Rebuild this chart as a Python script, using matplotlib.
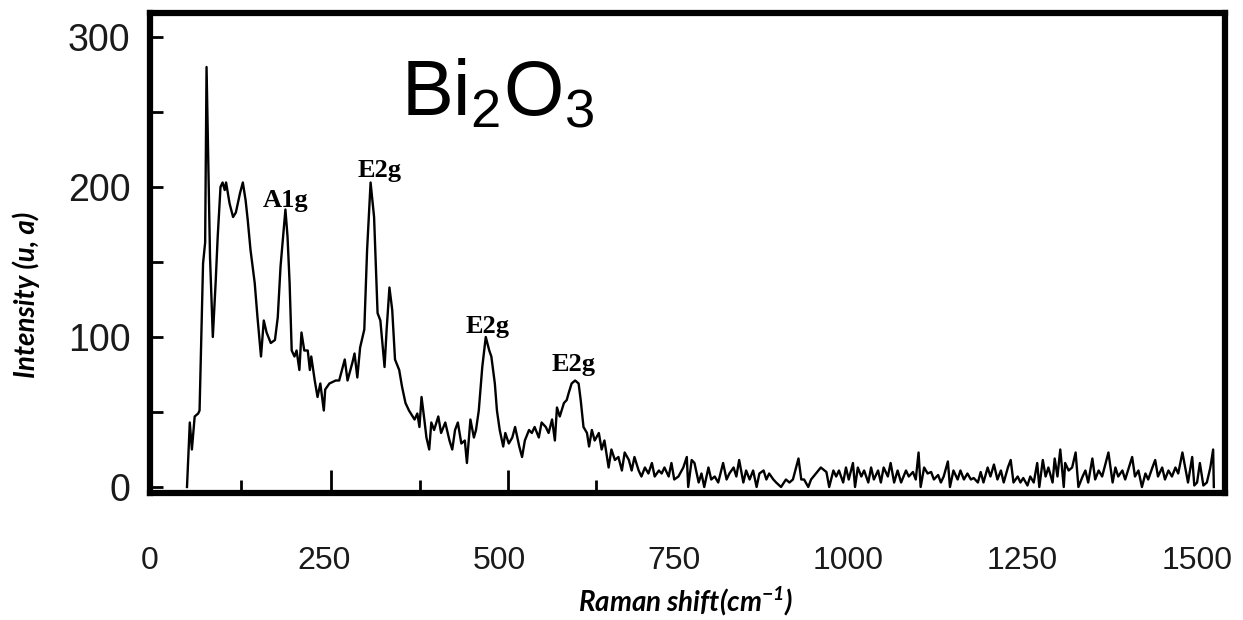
import numpy as np
import matplotlib
matplotlib.use("Agg")
import matplotlib.pyplot as plt
from matplotlib.ticker import FixedLocator

# Raman spectrum of Bi2O3: shift (cm-1) and intensity (a.u.)
shift = [53, 57, 60, 64, 69, 71, 76, 79, 81, 86, 90, 94, 97, 101, 104, 107, 109,
         114, 119, 123, 129, 133, 137, 140, 144, 150, 154, 159, 163, 167, 173, 179,
         183, 187, 194, 197, 200, 203, 207, 210, 214, 217, 221, 226, 229, 231, 236,
         240, 244, 249, 251, 257, 266, 271, 279, 283, 290, 293, 297, 301, 307, 311,
         316, 321, 326, 330, 336, 339, 343, 347, 351, 357, 361, 366, 371, 379, 383,
         386, 389, 393, 396, 400, 403, 407, 413, 417, 423, 429, 433, 437, 441, 446,
         451, 454, 459, 464, 467, 471, 476, 481, 486, 489, 494, 497, 501, 506, 509,
         514, 519, 523, 529, 533, 537, 543, 547, 551, 557, 561, 567, 571, 576, 580,
         583, 587, 593, 597, 600, 604, 609, 614, 617, 621, 626, 629, 633, 637, 643,
         647, 651, 657, 661, 666, 671, 676, 680, 686, 690, 694, 700, 704, 709, 714,
         719, 723, 729, 733, 737, 743, 747, 751, 757, 764, 769, 771, 776, 780, 786,
         790, 794, 800, 804, 809, 814, 821, 826, 830, 836, 840, 844, 850, 854, 859,
         864, 869, 873, 879, 883, 887, 893, 897, 904, 911, 916, 921, 929, 933, 937,
         943, 947, 954, 961, 969, 973, 979, 983, 987, 993, 997, 1001, 1007, 1010,
         1014, 1019, 1023, 1029, 1033, 1037, 1043, 1047, 1051, 1057, 1061, 1066,
         1071, 1076, 1083, 1087, 1093, 1097, 1101, 1104, 1109, 1114, 1119, 1123,
         1129, 1133, 1137, 1143, 1146, 1151, 1157, 1161, 1166, 1171, 1176, 1180,
         1186, 1190, 1194, 1200, 1204, 1209, 1214, 1219, 1223, 1229, 1233, 1237,
         1243, 1247, 1251, 1257, 1261, 1266, 1271, 1274, 1279, 1283, 1287, 1293,
         1296, 1300, 1304, 1309, 1311, 1316, 1321, 1326, 1330, 1336, 1340, 1344,
         1350, 1354, 1359, 1364, 1369, 1373, 1379, 1383, 1387, 1393, 1397, 1401,
         1407, 1411, 1416, 1421, 1426, 1430, 1436, 1440, 1444, 1450, 1454, 1459,
         1464, 1469, 1473, 1479, 1483, 1487, 1493, 1496, 1500, 1504, 1509, 1514,
         1519, 1523, 1524]
intensity = [0, 43, 25, 47, 49, 51, 149, 163, 280, 153, 100, 136, 167, 200, 203, 198, 203,
             189, 180, 183, 196, 203, 191, 178, 158, 136, 113, 87, 111, 103, 96, 98,
             113, 147, 185, 167, 136, 91, 87, 91, 78, 103, 91, 91, 78, 87, 71,
             60, 69, 51, 65, 69, 71, 71, 85, 71, 83, 89, 73, 93, 105, 158,
             203, 180, 116, 111, 80, 105, 133, 118, 85, 78, 67, 56, 51, 45, 49,
             40, 60, 45, 33, 25, 43, 38, 47, 36, 43, 31, 25, 38, 43, 29,
             31, 16, 45, 33, 38, 51, 80, 100, 91, 87, 69, 51, 38, 27, 36,
             29, 33, 40, 27, 20, 31, 38, 36, 40, 33, 43, 40, 36, 45, 31,
             53, 47, 56, 58, 63, 69, 71, 69, 58, 40, 36, 27, 38, 31, 36,
             25, 31, 13, 25, 18, 20, 11, 23, 18, 11, 20, 11, 7, 13, 9,
             16, 7, 11, 9, 13, 7, 16, 5, 7, 13, 20, 0, 18, 16, 3,
             9, 0, 13, 5, 7, 3, 16, 5, 9, 13, 7, 18, 3, 11, 5,
             11, 0, 9, 11, 5, 9, 5, 3, 0, 5, 3, 5, 19, 5, 5,
             0, 5, 9, 13, 10, 0, 11, 7, 11, 3, 13, 5, 16, 0,
             13, 7, 11, 3, 13, 5, 11, 3, 13, 7, 16, 3,
             11, 3, 11, 7, 10, 5, 23, 0, 13, 9, 10, 5,
             8, 3, 7, 17, 0, 11, 5, 11, 5, 9, 5, 6,
             3, 10, 3, 13, 7, 15, 5, 11, 3, 13, 18, 3,
             7, 3, 6, 1, 7, 3, 16, 0, 18, 7, 13, 3,
             19, 7, 25, 0, 16, 11, 13, 23, 0, 7, 11, 3,
             19, 5, 11, 7, 16, 23, 3, 13, 7, 11, 5, 11,
             20, 7, 11, 0, 9, 5, 13, 18, 7, 13, 5, 11,
             7, 13, 9, 23, 13, 3, 20, 1, 3, 16, 1, 3,
             13, 25, 0]

# peak assignments: label, shift, text baseline
peak_names = ["A1g", "E2g", "E2g", "E2g"]
peak_x = [194, 329, 483, 607]
peak_y = [187, 207, 103, 77]

x_labels = [0, 250, 500, 750, 1000, 1250, 1500]
inner_long = [260, 513]
inner_short = [130, 387, 639]

plt.rcParams["mathtext.fontset"] = "custom"
plt.rcParams["mathtext.sf"] = "Liberation Sans"
plt.rcParams["mathtext.rm"] = "Lato:italic:bold"

fig = plt.figure(figsize=(12.43, 6.2), dpi=100)
ax = fig.add_axes([150 / 1243, 1 - 493 / 620, 1075 / 1243, 480 / 620])

ax.plot(shift, intensity, color="black", lw=1.7)

ax.set_xlim(0, 1540)
ax.set_ylim(-4, 316)

for sp in ax.spines.values():
    sp.set_linewidth(4.5)

# y axis: inward ticks every 50, labels every 100
ax.yaxis.set_major_locator(FixedLocator([0, 100, 200, 300]))
ax.yaxis.set_minor_locator(FixedLocator([50, 150, 250]))
ax.tick_params(axis="y", which="both", direction="in", length=9.5, width=2,
               pad=14, labelsize=27, labelcolor="#1a1a1a")
for t in ax.get_yticklabels():
    t.set_fontfamily("Liberation Sans")

# x axis: labels only, set well below the frame
ax.xaxis.set_major_locator(FixedLocator(x_labels))
ax.tick_params(axis="x", which="major", length=0, pad=38, labelsize=23,
               labelcolor="#1a1a1a")
for t in ax.get_xticklabels():
    t.set_fontfamily("Liberation Sans")

# inner tick marks on the bottom frame
sec = ax.secondary_xaxis("bottom")
sec.spines["bottom"].set_visible(False)
sec.xaxis.set_major_locator(FixedLocator(inner_long))
sec.xaxis.set_minor_locator(FixedLocator(inner_short))
sec.tick_params(axis="x", which="major", direction="in", length=16.5, width=2,
                labelbottom=False)
sec.tick_params(axis="x", which="minor", direction="in", length=9.5, width=2,
                labelbottom=False)

ax.set_ylabel("Intensity (u, a)", fontfamily="Lato", fontstyle="italic",
              fontweight="bold", fontsize=20)
ax.yaxis.set_label_coords(-0.102, 0.4125)
ax.set_xlabel(r"Raman shift(cm$^{-1}$)", fontfamily="Lato", fontstyle="italic",
              fontweight="bold", fontsize=20)
ax.xaxis.set_label_coords(0.498, -0.19)

ax.text(0.323, 0.7875, r"$\mathsf{Bi_2O_3}$", transform=ax.transAxes,
        ha="center", va="baseline", fontsize=56)

for name, px, py in zip(peak_names, peak_x, peak_y):
    ax.text(px, py, name, ha="center", va="baseline", fontfamily="Liberation Serif",
            fontweight="bold", fontsize=19)

fig.savefig("out.png", dpi=100)
